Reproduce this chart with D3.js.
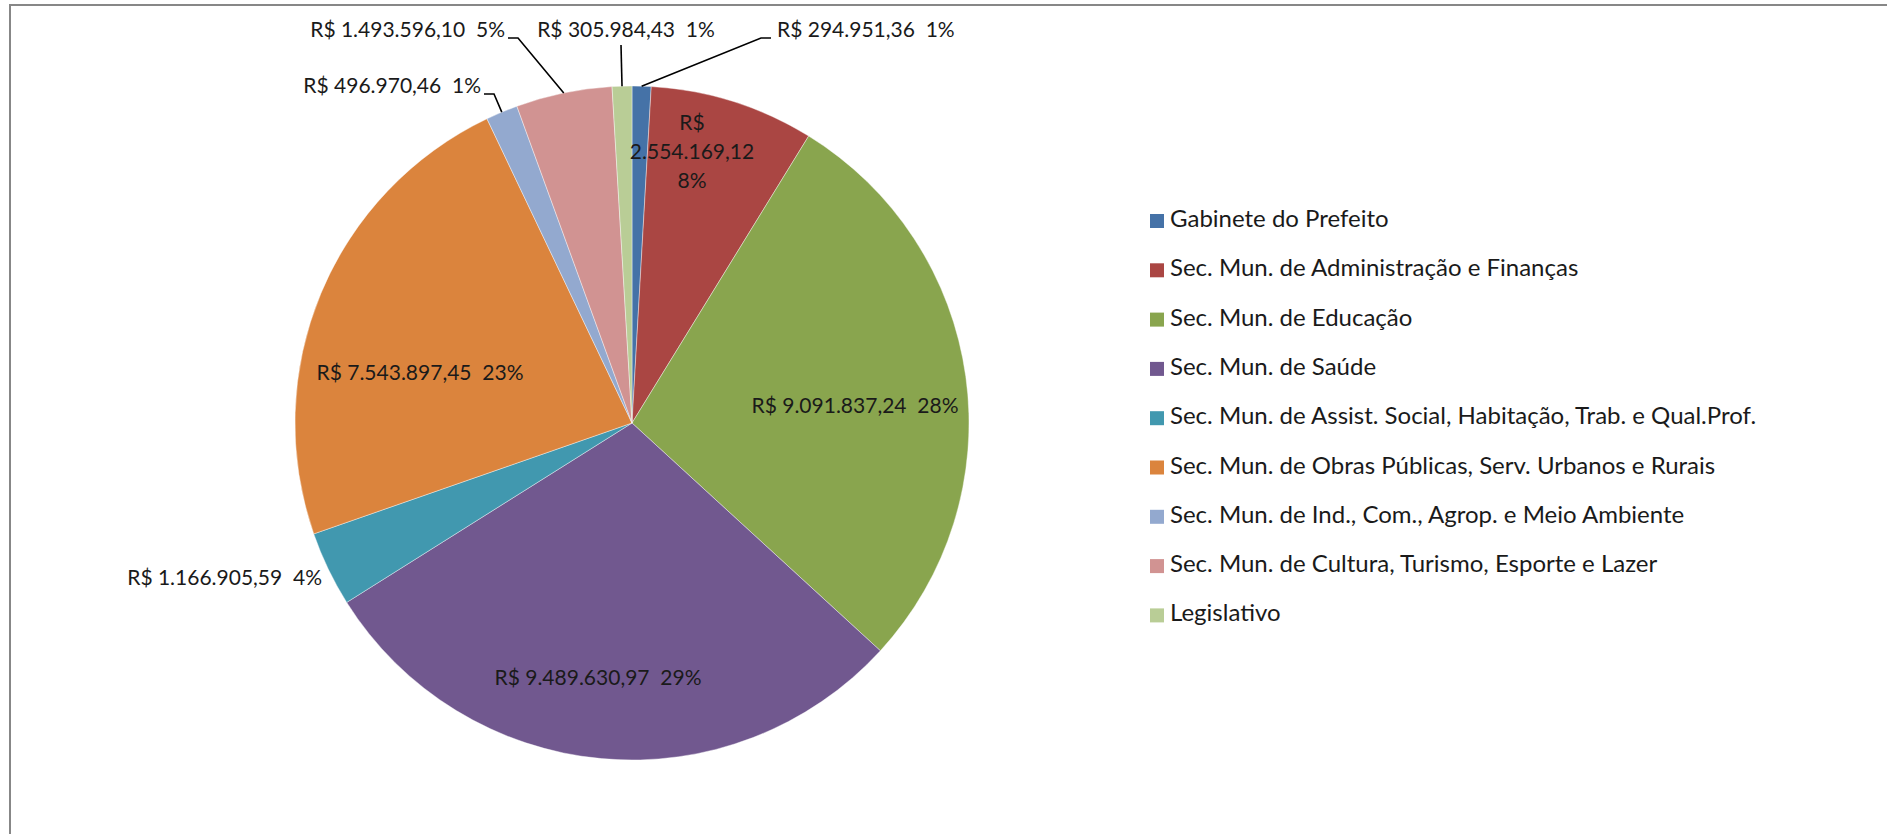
<!DOCTYPE html>
<html>
<head>
<meta charset="utf-8">
<script src="https://cdn.jsdelivr.net/npm/d3@7"></script>
<style>
  body { margin: 0; background: #fff; }
  text { font-family: Lato, "Noto Sans", sans-serif; fill: #1a1a1a; }
</style>
</head>
<body>
<div id="chart"></div>
<script>
// Data
const categories = [
    "Gabinete do Prefeito",
    "Sec. Mun. de Administração e Finanças",
    "Sec. Mun. de Educação",
    "Sec. Mun. de Saúde",
    "Sec. Mun. de Assist. Social, Habitação, Trab. e Qual.Prof.",
    "Sec. Mun. de Obras Públicas, Serv. Urbanos e Rurais",
    "Sec. Mun. de Ind., Com., Agrop. e Meio Ambiente",
    "Sec. Mun. de Cultura, Turismo, Esporte e Lazer",
    "Legislativo"
];
const values = [294951.36, 2554169.12, 9091837.24, 9489630.97, 1166905.59,
                7543897.45, 496970.46, 1493596.10, 305984.43];
const colors = ["#4572A7", "#AA4643", "#89A54E", "#71588F", "#4198AF",
                "#DB843D", "#93A9CF", "#D19392", "#B9CD96"];

// Label placement (layout only): x/y of label, anchor, optional leader elbow
const labelLayout = [
    { x: 777, y: 32, anchor: "start", leader: [[771, 38], [761, 38]] },
    { x: 692, y: 154, anchor: "middle", wrap: true },
    { x: 855, y: 408, anchor: "middle" },
    { x: 598, y: 680, anchor: "middle" },
    { x: 322, y: 580, anchor: "end" },
    { x: 420, y: 375, anchor: "middle" },
    { x: 481, y: 88, anchor: "end", leader: [[484, 94], [494, 94]] },
    { x: 505, y: 32, anchor: "end", leader: [[508, 38], [518, 38]] },
    { x: 626, y: 32, anchor: "middle", leader: [[621, 45]] }
];

const width = 1887, height = 834;
const cx = 632, cy = 423, radius = 337;

const svg = d3.select("#chart").append("svg")
    .attr("width", width)
    .attr("height", height);

// chart frame (cropped at the right and bottom)
svg.append("rect")
    .attr("x", 10).attr("y", 5)
    .attr("width", width).attr("height", height)
    .attr("fill", "none")
    .attr("stroke", "#878787")
    .attr("stroke-width", 2);

// Brazilian number format
const br = d3.formatLocale({ decimal: ",", thousands: ".", grouping: [3], currency: ["R$ ", ""] });
const money = br.format("$,.2f");

// percentages rounded so that they add to 100 (largest remainder)
const total = d3.sum(values);
const raw = values.map(v => v / total * 100);
const pct = raw.map(Math.floor);
let left = 100 - d3.sum(pct);
d3.range(values.length)
    .sort((a, b) => (raw[b] - pct[b]) - (raw[a] - pct[a]))
    .slice(0, left)
    .forEach(i => pct[i] += 1);

const pie = d3.pie().sort(null).value(d => d)(values);
const arc = d3.arc().innerRadius(0).outerRadius(radius);
const edge = d3.arc().innerRadius(radius).outerRadius(radius);

const g = svg.append("g").attr("transform", `translate(${cx},${cy})`);

g.selectAll("path.slice")
    .data(pie)
    .enter().append("path")
    .attr("class", "slice")
    .attr("d", arc)
    .attr("fill", (d, i) => colors[i])
    .attr("stroke", "rgba(255,255,255,0.5)")
    .attr("stroke-width", 0.8);

// leader lines
pie.forEach((d, i) => {
    const L = labelLayout[i];
    if (!L.leader) return;
    const m = edge.centroid(d);
    const pts = L.leader.concat([[m[0] + cx, m[1] + cy]]);
    svg.append("path")
        .attr("d", d3.line()(pts))
        .attr("fill", "none")
        .attr("stroke", "#000")
        .attr("stroke-width", 1.6);
});

// data labels
pie.forEach((d, i) => {
    const L = labelLayout[i];
    const t = svg.append("text")
        .attr("text-anchor", L.anchor)
        .attr("dominant-baseline", "middle")
        .style("font-size", "21px")
        .style("white-space", "pre");
    if (L.wrap) {
        const parts = ["R$", money(values[i]).replace("R$ ", ""), pct[i] + "%"];
        parts.forEach((p, k) => {
            t.append("tspan").attr("x", L.x).attr("y", L.y + (k - 1) * 29).text(p);
        });
    } else {
        t.attr("x", L.x).attr("y", L.y).text(money(values[i]) + "  " + pct[i] + "%");
    }
});

// legend
const legend = svg.append("g").attr("transform", "translate(1150,221)");
const rows = legend.selectAll("g")
    .data(categories)
    .enter().append("g")
    .attr("transform", (d, i) => `translate(0,${i * 49.3})`);
rows.append("rect")
    .attr("x", 0).attr("y", -7)
    .attr("width", 14).attr("height", 14)
    .attr("fill", (d, i) => colors[i]);
rows.append("text")
    .attr("x", 20).attr("y", 0)
    .attr("dominant-baseline", "middle")
    .style("font-size", "24px")
    .text(d => d);
</script>
</body>
</html>
